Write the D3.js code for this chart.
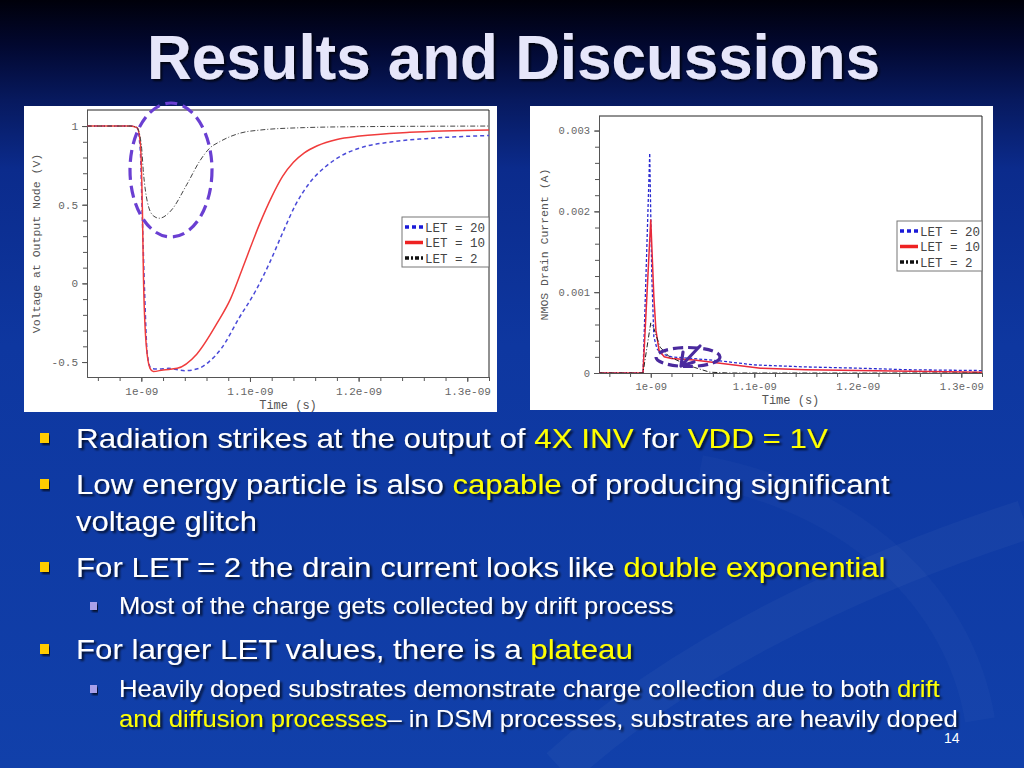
<!DOCTYPE html>
<html>
<head>
<meta charset="utf-8">
<script src="https://cdn.jsdelivr.net/npm/d3@7"></script>
<style>
  body { margin: 0; background: #0f3aa4; }
  svg { display: block; }
</style>
</head>
<body>
<svg id="slide" width="1024" height="768"></svg>
<script>
// --- voltage at output node (time in ns, volts)
const vTime20 = [0.95, 0.99, 0.996, 0.999, 1.001, 1.003, 1.0055, 1.009, 1.015, 1.025, 1.04, 1.053, 1.062, 1.074, 1.09, 1.105, 1.118, 1.13, 1.142, 1.155, 1.171, 1.185, 1.201, 1.231, 1.262, 1.32];
const vLet20  = [1, 1, 0.99, 0.85, 0.4, -0.05, -0.45, -0.54, -0.545, -0.54, -0.555, -0.54, -0.5, -0.41, -0.22, -0.05, 0.13, 0.32, 0.5, 0.64, 0.75, 0.815, 0.86, 0.9, 0.92, 0.94];
const vTime10 = [0.95, 0.99, 0.996, 0.999, 1.001, 1.002, 1.0045, 1.008, 1.011, 1.02, 1.033, 1.051, 1.07, 1.082, 1.095, 1.109, 1.12, 1.13, 1.14, 1.15, 1.162, 1.18, 1.201, 1.247, 1.32];
const vLet10  = [1, 1, 0.99, 0.9, 0.46, 0.03, -0.39, -0.54, -0.56, -0.55, -0.54, -0.45, -0.25, -0.1, 0.13, 0.38, 0.55, 0.68, 0.77, 0.83, 0.875, 0.915, 0.936, 0.96, 0.975];
const vTime2  = [0.95, 0.99, 0.996, 1.0, 1.002, 1.0055, 1.011, 1.0165, 1.027, 1.042, 1.054, 1.063, 1.072, 1.091, 1.11, 1.15, 1.2, 1.32];
const vLet2   = [1, 1, 0.99, 0.88, 0.7, 0.52, 0.43, 0.414, 0.46, 0.63, 0.78, 0.86, 0.9, 0.955, 0.975, 0.99, 0.996, 1.0];

// --- NMOS drain current (time in ns, amps)
const iTime20 = [0.95, 0.9925, 0.999, 1.001, 1.003, 1.006, 1.01, 1.02, 1.04, 1.067, 1.1, 1.15, 1.2, 1.25, 1.32];
const iLet20  = [0, 0, 0.00272, 0.0012, 0.00045, 0.0003, 0.00024, 0.0002, 0.00018, 0.00015, 0.0001, 0.000075, 0.00006, 0.00004, 0.00003];
const iTime10 = [0.95, 0.9925, 1.0, 1.003, 1.005, 1.008, 1.013, 1.02, 1.042, 1.067, 1.106, 1.15, 1.2, 1.32];
const iLet10  = [0, 0, 0.0019, 0.00094, 0.00053, 0.00028, 0.0002, 0.00018, 0.00016, 0.00012, 0.00006, 0.00004, 0.00003, 0.00001];
const iTime2  = [0.95, 0.9925, 1.0, 1.003, 1.009, 1.018, 1.032, 1.042, 1.057, 1.075, 1.32];
const iLet2   = [0, 0, 0.00062, 0.00055, 0.00032, 0.0002, 0.00012, 0.00007, 0.00001, 0, 0];

// ticks and labels
const timeTicks = [1.0, 1.1, 1.2, 1.3];
const timeTickLabels = ["1e-09", "1.1e-09", "1.2e-09", "1.3e-09"];
const voltTicks = [-0.5, 0, 0.5, 1];
const voltTickLabels = ["-0.5", "0", "0.5", "1"];
const currTicks = [0, 0.001, 0.002, 0.003];
const currTickLabels = ["0", "0.001", "0.002", "0.003"];
const legendLabels = ["LET = 20", "LET = 10", "LET = 2"];

const svg = d3.select("#slide");
const defs = svg.append("defs");

// background gradient
const bg = defs.append("linearGradient").attr("id", "bg").attr("x1", 0).attr("y1", 0).attr("x2", 0).attr("y2", 1);
[["0%", "#00000a"], ["6%", "#020830"], ["13%", "#07195e"], ["22%", "#0b2b8c"], ["45%", "#0e37a0"], ["100%", "#1140aa"]]
  .forEach(s => bg.append("stop").attr("offset", s[0]).attr("stop-color", s[1]));
svg.append("rect").attr("width", 1024).attr("height", 768).attr("fill", "url(#bg)");

// faint swirl in the background
svg.append("path").attr("d", "M560,768 C700,640 900,560 1024,520")
  .attr("fill", "none").attr("stroke", "#ffffff").attr("stroke-opacity", 0.03).attr("stroke-width", 40);
svg.append("path").attr("d", "M700,470 C860,500 960,600 980,720")
  .attr("fill", "none").attr("stroke", "#ffffff").attr("stroke-opacity", 0.025).attr("stroke-width", 30);

const shadow = defs.append("filter").attr("id", "shadow").attr("x", -0.1).attr("y", -0.3).attr("width", 1.2).attr("height", 1.6);
shadow.append("feDropShadow").attr("dx", 2).attr("dy", 2).attr("stdDeviation", 0.8)
  .attr("flood-color", "#000").attr("flood-opacity", 0.75);

// fit a text horizontally into [x0, x1]
function fitText(sel, x0, x1, y) {
  const w = sel.node().getComputedTextLength();
  sel.attr("transform", `translate(${x0},${y}) scale(${(x1 - x0) / w},1)`);
}

// title
const title = svg.append("text")
  .attr("font-family", "Liberation Sans, Arial, sans-serif")
  .attr("font-weight", "bold").attr("font-size", 62)
  .attr("fill", "#e6e6fa").attr("filter", "url(#shadow)")
  .text("Results and Discussions");
fitText(title, 147, 880, 79);

const timeMinor = d3.range(0.96, 1.3201, 0.02);

function drawPanel(cfg) {
  const g = svg.append("g");
  g.append("rect").attr("x", cfg.px).attr("y", cfg.py).attr("width", cfg.pw).attr("height", cfg.ph).attr("fill", "#fff");

  const x = d3.scaleLinear().domain([0.95, 1.32]).range([cfg.left, cfg.right]);
  const y = d3.scaleLinear().domain(cfg.yDomain).range([cfg.bottom, cfg.top]);

  const styleAxis = a => {
    a.selectAll("path, line").attr("stroke", "#555");
    a.selectAll("text").attr("fill", "#666").attr("font-family", "Liberation Mono, monospace").attr("font-size", cfg.tickFont);
  };

  g.append("g").attr("transform", `translate(0,${cfg.bottom})`)
    .call(d3.axisBottom(x).tickValues(timeMinor).tickSize(4).tickSizeOuter(0).tickFormat(""))
    .call(styleAxis);
  g.append("g").attr("transform", `translate(0,${cfg.bottom})`)
    .call(d3.axisBottom(x).tickValues(timeTicks).tickSize(5).tickSizeOuter(0).tickPadding(5)
      .tickFormat((d, i) => timeTickLabels[i]))
    .call(styleAxis);
  g.append("g").attr("transform", `translate(${cfg.left},0)`)
    .call(d3.axisLeft(y).tickValues(cfg.yMinor).tickSize(4).tickSizeOuter(0).tickFormat(""))
    .call(styleAxis);
  g.append("g").attr("transform", `translate(${cfg.left},0)`)
    .call(d3.axisLeft(y).tickValues(cfg.yTicks).tickSize(5).tickSizeOuter(0).tickPadding(4)
      .tickFormat((d, i) => cfg.yTickLabels[i]))
    .call(styleAxis);

  // frame top / right
  g.append("path")
    .attr("d", `M${cfg.left},${cfg.top}H${cfg.right}V${cfg.bottom}`)
    .attr("fill", "none").attr("stroke", "#222").attr("stroke-width", 1);

  g.append("text").attr("x", (cfg.left + cfg.right) / 2).attr("y", cfg.xLabelY)
    .attr("text-anchor", "middle").attr("font-family", "Liberation Mono, monospace")
    .attr("font-size", 12).attr("fill", "#555").text("Time (s)");
  g.append("text")
    .attr("transform", `translate(${cfg.yLabelX},${(cfg.top + cfg.bottom) / 2}) rotate(-90)`)
    .attr("text-anchor", "middle").attr("font-family", "Liberation Mono, monospace")
    .attr("font-size", 11.5).attr("fill", "#555").text(cfg.yLabel);

  const clipId = "clip" + cfg.px;
  defs.append("clipPath").attr("id", clipId).append("rect")
    .attr("x", cfg.left).attr("y", cfg.top).attr("width", cfg.right - cfg.left).attr("height", cfg.bottom - cfg.top);

  const line = d3.line().x(d => x(d[0])).y(d => y(d[1])).curve(cfg.curve);
  const lines = g.append("g").attr("clip-path", `url(#${clipId})`);
  cfg.series.forEach(s => {
    lines.append("path").datum(d3.zip(s.t, s.v))
      .attr("d", line).attr("fill", "none")
      .attr("stroke", s.color).attr("stroke-width", s.width)
      .attr("stroke-dasharray", s.dash);
  });

  // legend
  const lg = g.append("g");
  lg.append("rect").attr("x", cfg.legX).attr("y", cfg.legY).attr("width", cfg.right - cfg.legX).attr("height", 50)
    .attr("fill", "#fff").attr("stroke", "#777").attr("stroke-width", 1);
  cfg.series.forEach((s, i) => {
    const yy = cfg.legY + 10 + i * 15.5;
    lg.append("line").attr("x1", cfg.legX + 3).attr("x2", cfg.legX + 21).attr("y1", yy).attr("y2", yy)
      .attr("stroke", s.legColor).attr("stroke-width", 3.5).attr("stroke-dasharray", s.legDash);
    lg.append("text").attr("x", cfg.legX + 23).attr("y", yy + 4.5)
      .attr("font-family", "Liberation Mono, monospace").attr("font-size", 12.5).attr("fill", "#444")
      .text(legendLabels[i]);
  });
  return { x, y };
}

drawPanel({
  px: 24, py: 106, pw: 473, ph: 306,
  left: 87, right: 489, top: 110, bottom: 377,
  yDomain: [-0.595, 1.102],
  yTicks: voltTicks, yTickLabels: voltTickLabels,
  yMinor: d3.range(-0.5, 1.01, 0.1),
  tickFont: 11, xLabelY: 409, yLabelX: 40,
  yLabel: "Voltage at Output Node (V)",
  legX: 402, legY: 217,
  curve: d3.curveMonotoneX,
  series: [
    { t: vTime20, v: vLet20, color: "#4a4ad8", width: 1.5, dash: "4,3", legColor: "#1a1ad8", legDash: "4,3" },
    { t: vTime10, v: vLet10, color: "#f03c3c", width: 1.5, dash: null, legColor: "#ee2222", legDash: null },
    { t: vTime2, v: vLet2, color: "#444", width: 1, dash: "5,2,1,2", legColor: "#111", legDash: "4,2,2,2" }
  ]
});

drawPanel({
  px: 530, py: 106, pw: 463, ph: 304,
  left: 599, right: 982, top: 116, bottom: 373,
  yDomain: [0, 0.00318],
  yTicks: currTicks, yTickLabels: currTickLabels,
  yMinor: d3.range(0, 0.00301, 0.0002),
  tickFont: 10.5, xLabelY: 404, yLabelX: 548,
  yLabel: "NMOS Drain Current (A)",
  legX: 897, legY: 221,
  curve: d3.curveLinear,
  series: [
    { t: iTime20, v: iLet20, color: "#2a2ad0", width: 1.3, dash: "3,2", legColor: "#1a1ad8", legDash: "4,3" },
    { t: iTime10, v: iLet10, color: "#e82a3a", width: 1.5, dash: null, legColor: "#ee2222", legDash: null },
    { t: iTime2, v: iLet2, color: "#222", width: 1, dash: "5,2,1,2", legColor: "#111", legDash: "4,2,2,2" }
  ]
});

// hand-drawn annotations
svg.append("ellipse").attr("cx", 171).attr("cy", 170).attr("rx", 41).attr("ry", 67)
  .attr("fill", "none").attr("stroke", "#6a3fd2").attr("stroke-width", 3.2).attr("stroke-dasharray", "12,6");
svg.append("ellipse").attr("cx", 688).attr("cy", 357).attr("rx", 32).attr("ry", 9.5)
  .attr("fill", "none").attr("stroke", "#4a2a9e").attr("stroke-width", 3.2).attr("stroke-dasharray", "10,5");
svg.append("path").attr("d", "M700,346 L681,366 M681,366 L683,352 M681,366 L694,362")
  .attr("fill", "none").attr("stroke", "#4a2a9e").attr("stroke-width", 3.2).attr("stroke-linecap", "round");

// bullet text
const bullets = [
  { lvl: 1, y: 448, x1: 828, bullet: true, parts: [["Radiation strikes at the output of ", 0], ["4X INV", 1], [" for ", 0], ["VDD = 1V", 1]] },
  { lvl: 1, y: 494, x1: 890, bullet: true, parts: [["Low energy particle is also ", 0], ["capable", 1], [" of producing significant", 0]] },
  { lvl: 1, y: 531, x1: 257, bullet: false, parts: [["voltage glitch", 0]] },
  { lvl: 1, y: 577, x1: 886, bullet: true, parts: [["For LET = 2 the drain current looks like ", 0], ["double exponential", 1]] },
  { lvl: 2, y: 614, x1: 674, bullet: true, parts: [["Most of the charge gets collected by drift process", 0]] },
  { lvl: 1, y: 659, x1: 633, bullet: true, parts: [["For larger LET values, there is a ", 0], ["plateau", 1]] },
  { lvl: 2, y: 697, x1: 940, bullet: true, parts: [["Heavily doped substrates demonstrate charge collection due to both ", 0], ["drift", 1]] },
  { lvl: 2, y: 727, x1: 958, bullet: false, parts: [["and diffusion processes", 1], ["\u2013 in DSM processes, substrates are heavily doped", 0]] }
];
const textColors = ["#ffffff", "#ffff00"];
bullets.forEach(b => {
  const x0 = b.lvl === 1 ? 76 : 119;
  if (b.bullet) {
    if (b.lvl === 1) {
      svg.append("rect").attr("x", 40).attr("y", b.y - 15).attr("width", 9).attr("height", 10)
        .attr("fill", "#ffcc00").attr("filter", "url(#shadow)");
    } else {
      svg.append("rect").attr("x", 90).attr("y", b.y - 12).attr("width", 7).attr("height", 8)
        .attr("fill", "#a8a0ea").attr("filter", "url(#shadow)");
    }
  }
  const t = svg.append("text")
    .attr("font-family", "Liberation Sans, Arial, sans-serif")
    .attr("font-size", b.lvl === 1 ? 28 : 23.5)
    .attr("filter", "url(#shadow)");
  b.parts.forEach(p => t.append("tspan").attr("fill", textColors[p[1]]).text(p[0]));
  fitText(t, x0, b.x1, b.y);
});

svg.append("text").attr("x", 944).attr("y", 743)
  .attr("font-family", "Liberation Sans, Arial, sans-serif").attr("font-size", 14)
  .attr("fill", "#fff").text("14");
</script>
</body>
</html>
